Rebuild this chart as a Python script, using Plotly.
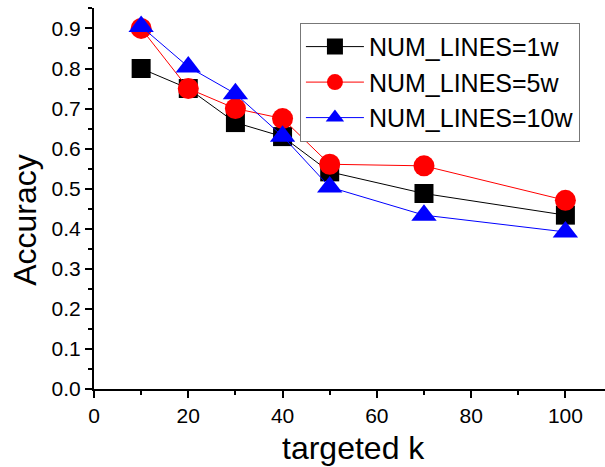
import plotly.graph_objects as go

k_values = [10, 20, 30, 40, 50, 70, 100]
acc_1w = [0.80, 0.75, 0.665, 0.63, 0.542, 0.488, 0.434]
acc_5w = [0.90, 0.75, 0.70, 0.675, 0.561, 0.557, 0.471]
acc_10w = [0.905, 0.804, 0.737, 0.631, 0.504, 0.434, 0.392]
series_names = ["NUM_LINES=1w", "NUM_LINES=5w", "NUM_LINES=10w"]

FONT = "Arial, Liberation Sans, sans-serif"
XR = [0, 108.4]
YR = [0, 0.951]

fig = go.Figure()
specs = [
    (acc_1w, series_names[0], "#000000", "square", 19),
    (acc_5w, series_names[1], "#ff0000", "circle", 21),
    (acc_10w, series_names[2], "#0000ff", "triangle-up", 22),
]
for ys, name, col, sym, sz in specs:
    fig.add_trace(go.Scatter(
        x=k_values, y=ys, name=name, mode="lines+markers",
        line=dict(color=col, width=1),
        marker=dict(symbol=sym, size=sz, color=col, line=dict(width=0)),
    ))

axis_common = dict(showgrid=False, zeroline=False, showline=True,
                   linecolor="black", linewidth=2,
                   tickfont=dict(family=FONT, size=21, color="black"),
                   tickcolor="black", tickwidth=1.5)

fig.update_layout(
    width=605, height=467,
    margin=dict(l=94, r=0, t=8, b=78),
    paper_bgcolor="white", plot_bgcolor="white",
    font=dict(family=FONT, color="black"),
    showlegend=True,
    legend=dict(x=0.403, y=0.961, xanchor="left", yanchor="top",
                bordercolor="#777777", borderwidth=1, bgcolor="white",
                font=dict(family=FONT, size=25, color="black"),
                itemwidth=58, tracegroupgap=0),
    xaxis=dict(range=XR, tick0=0, dtick=20, ticks="outside", ticklen=7,
               minor=dict(dtick=10, ticks="outside", ticklen=4, tickcolor="black"),
               **axis_common),
    yaxis=dict(range=YR, tick0=0, dtick=0.1, tickformat=".1f", ticks="outside", ticklen=7,
               minor=dict(dtick=0.05, ticks="outside", ticklen=4, tickcolor="black"),
               **axis_common),
    xaxis2=dict(range=XR, overlaying="x", side="top", anchor="y", showticklabels=False,
                tick0=0, dtick=10, ticks="inside", ticklen=5, showgrid=False, zeroline=False,
                showline=True, linecolor="black", linewidth=2, tickcolor="black"),
    yaxis2=dict(range=YR, overlaying="y", side="right", anchor="x", showticklabels=False,
                tick0=0, dtick=0.05, ticks="inside", ticklen=5, showgrid=False, zeroline=False,
                showline=True, linecolor="black", linewidth=2, tickcolor="black"),
    annotations=[
        dict(text="targeted k", xref="paper", yref="paper", x=0.507, y=-0.155,
             xanchor="center", yanchor="middle", showarrow=False,
             font=dict(family=FONT, size=32, color="black")),
        dict(text="Accuracy", xref="paper", yref="paper", x=-0.135, y=0.444,
             xanchor="center", yanchor="middle", textangle=-90, showarrow=False,
             font=dict(family=FONT, size=32, color="black")),
    ],
)

fig.write_html("out.html")
